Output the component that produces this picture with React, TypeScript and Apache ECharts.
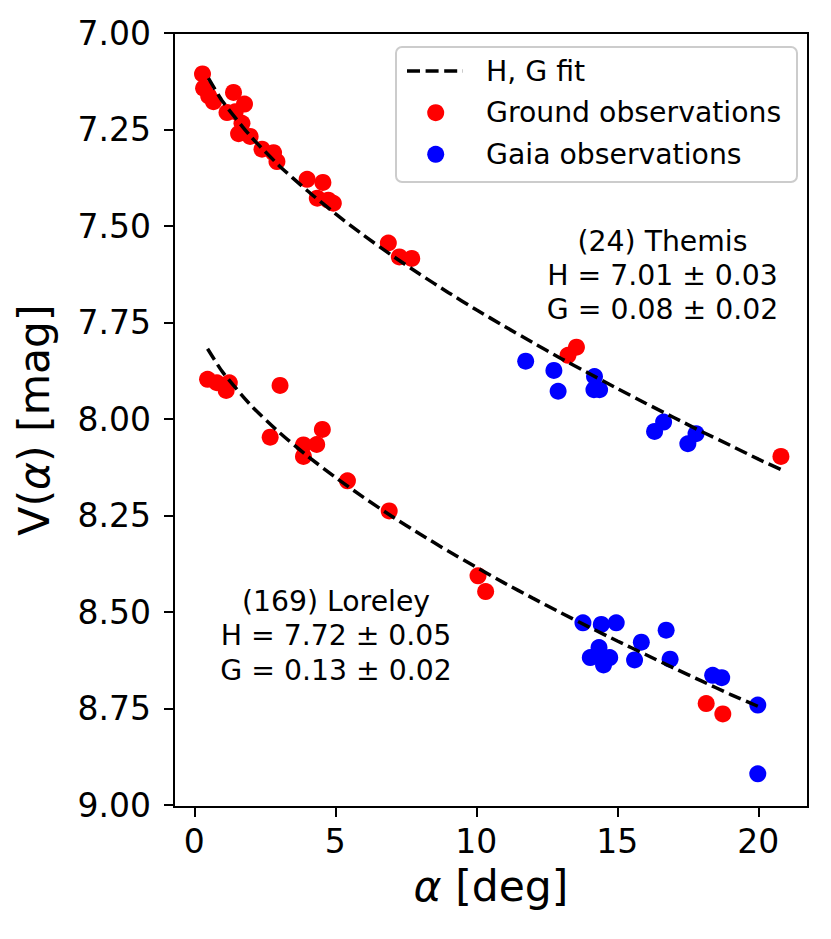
import React, { useEffect, useRef } from "react";
import * as echarts from "echarts";

const FONT = "DejaVu Sans";

// Tick labels
const xTicks = [0, 5, 10, 15, 20];
const yTicks = [7.0, 7.25, 7.5, 7.75, 8.0, 8.25, 8.5, 8.75, 9.0];

// (24) Themis
const themisGround: [number, number][] = [
  [0.29, 7.106], [0.33, 7.143], [0.51, 7.163], [0.68, 7.178], [1.39, 7.154],
  [1.78, 7.184], [1.16, 7.206], [1.45, 7.204], [1.69, 7.234], [1.57, 7.261],
  [1.98, 7.268], [2.4, 7.301], [2.81, 7.31], [2.93, 7.333], [4.0, 7.379],
  [4.56, 7.387], [4.36, 7.428], [4.75, 7.433], [4.93, 7.441], [6.88, 7.544],
  [7.27, 7.58], [7.71, 7.584], [13.55, 7.814], [13.25, 7.835], [20.8, 8.097],
];
const themisGaia: [number, number][] = [
  [11.75, 7.85], [12.75, 7.874], [12.9, 7.928], [14.19, 7.89], [14.17, 7.924],
  [14.37, 7.924], [16.64, 8.008], [16.32, 8.032], [17.79, 8.038], [17.5, 8.064],
];
const themisFit: [number, number][] = [
  [0.5, 7.117], [1, 7.177], [2, 7.268], [3, 7.343], [4, 7.408], [5, 7.468],
  [6, 7.524], [7, 7.576], [8, 7.625], [9, 7.672], [10, 7.717], [11, 7.76],
  [12, 7.802], [13, 7.843], [14, 7.882], [15, 7.921], [16, 7.959], [17, 7.996],
  [18, 8.033], [19, 8.068], [20, 8.104], [20.8, 8.131],
];

// (169) Loreley
const loreleyGround: [number, number][] = [
  [0.47, 7.897], [0.8, 7.906], [1.24, 7.906], [1.13, 7.926], [3.04, 7.913],
  [2.69, 8.047], [3.87, 8.067], [3.87, 8.097], [4.34, 8.066], [4.54, 8.027],
  [5.43, 8.16], [6.91, 8.238], [10.06, 8.406], [10.33, 8.447], [18.15, 8.737],
  [18.74, 8.764],
];
const loreleyGaia: [number, number][] = [
  [13.78, 8.528], [14.43, 8.532], [14.96, 8.528], [16.73, 8.547], [15.85, 8.578],
  [14.35, 8.592], [14.04, 8.618], [14.49, 8.618], [14.73, 8.618], [14.51, 8.637],
  [15.61, 8.624], [16.87, 8.622], [18.38, 8.664], [18.7, 8.67], [19.98, 8.741],
  [19.98, 8.919],
];
const loreleyFit: [number, number][] = [
  [0.47, 7.818], [1, 7.878], [2, 7.964], [3, 8.034], [4, 8.095], [5, 8.151],
  [6, 8.203], [7, 8.252], [8, 8.298], [9, 8.342], [10, 8.384], [11, 8.425],
  [12, 8.464], [13, 8.502], [14, 8.539], [15, 8.575], [16, 8.61], [17, 8.645],
  [18, 8.679], [19, 8.713], [19.98, 8.744],
];

const legendLabels = ["H, G fit", "Ground observations", "Gaia observations"];
const themisText = ["(24) Themis", "H = 7.01 ± 0.03", "G = 0.08 ± 0.02"];
const loreleyText = ["(169) Loreley", "H = 7.72 ± 0.05", "G = 0.13 ± 0.02"];

const RED = "#ff0000";
const BLUE = "#0000ff";
const DASH = [13, 5.6];

export default function App() {
  const ref = useRef<HTMLDivElement>(null);
  useEffect(() => {
    if (!ref.current) return;
    const chart = echarts.init(ref.current, null, { renderer: "svg" });
    const fitLine = (name: string, data: [number, number][]) => ({
      name,
      type: "line",
      data,
      symbol: "none",
      smooth: 0.2,
      z: 5,
      lineStyle: { color: "#000", width: 3.5, type: DASH },
    });
    const scatter = (name: string, data: [number, number][], color: string) => ({
      name,
      type: "scatter",
      data,
      symbolSize: 17,
      z: 3,
      itemStyle: { color, opacity: 1 },
    });
    const textStyle = (text: string, x: number, y: number, align: string) => ({
      type: "text",
      x,
      y,
      style: {
        text,
        fontSize: 28.3,
        fontFamily: FONT,
        fill: "#000",
        textAlign: align,
        textVerticalAlign: "middle",
        verticalAlign: "middle",
      },
      z: 10,
    });
    const option: any = {
      animation: false,
      backgroundColor: "#ffffff",
      textStyle: { fontFamily: FONT },
      grid: {
        left: 174,
        top: 33,
        right: 23,
        bottom: 132,
        show: true,
        borderColor: "#000",
        borderWidth: 2,
        backgroundColor: "transparent",
        containLabel: false,
      },
      xAxis: {
        type: "value",
        min: -0.72,
        max: 21.76,
        axisLine: { show: true, onZero: false, lineStyle: { color: "#000", width: 2 } },
        axisTick: {
          show: true,
          inside: false,
          length: 10,
          customValues: xTicks,
          lineStyle: { color: "#000", width: 2 },
        },
        axisLabel: {
          customValues: xTicks,
          fontSize: 33,
          color: "#000",
          fontFamily: FONT,
          margin: 18,
          formatter: (v: number) => String(v),
        },
        splitLine: { show: false },
        name: "{i|α} [deg]",
        nameLocation: "middle",
        nameGap: 58,
        nameMoveOverlap: false,
        nameTextStyle: {
          fontSize: 42.5,
          color: "#000",
          fontFamily: FONT,
          rich: { i: { fontStyle: "italic", fontSize: 42.5, fontFamily: FONT, color: "#000" } },
        },
      },
      yAxis: {
        type: "value",
        inverse: true,
        min: 7,
        max: 9.005,
        axisLine: { show: true, onZero: false, lineStyle: { color: "#000", width: 2 } },
        axisTick: {
          show: true,
          inside: false,
          length: 10,
          customValues: yTicks,
          lineStyle: { color: "#000", width: 2 },
        },
        axisLabel: {
          customValues: yTicks,
          fontSize: 33,
          color: "#000",
          fontFamily: FONT,
          margin: 23,
          formatter: (v: number) => v.toFixed(2),
        },
        splitLine: { show: false },
        name: "V({i|α}) [mag]",
        nameLocation: "middle",
        nameGap: 118,
        nameMoveOverlap: false,
        nameTextStyle: {
          fontSize: 42.5,
          color: "#000",
          fontFamily: FONT,
          rich: { i: { fontStyle: "italic", fontSize: 42.5, fontFamily: FONT, color: "#000" } },
        },
      },
      series: [
        scatter("Ground observations", themisGround, RED),
        scatter("Ground observations ", loreleyGround, RED),
        scatter("Gaia observations", themisGaia, BLUE),
        scatter("Gaia observations ", loreleyGaia, BLUE),
        fitLine("H, G fit", themisFit),
        fitLine("H, G fit ", loreleyFit),
      ],
      graphic: [
        {
          type: "rect",
          shape: { x: 396, y: 47, width: 401, height: 135, r: 6 },
          style: { fill: "rgba(255,255,255,0.8)", stroke: "#cccccc", lineWidth: 2 },
          z: 8,
        },
        {
          type: "line",
          shape: { x1: 407, y1: 71, x2: 463, y2: 71 },
          style: { stroke: "#000", lineWidth: 3.5, lineDash: DASH },
          z: 9,
        },
        { type: "circle", shape: { cx: 435.7, cy: 112.7, r: 8.5 }, style: { fill: RED }, z: 9 },
        { type: "circle", shape: { cx: 435.7, cy: 154.3, r: 8.5 }, style: { fill: BLUE }, z: 9 },
        textStyle(legendLabels[0], 486, 71, "left"),
        textStyle(legendLabels[1], 486, 112.7, "left"),
        textStyle(legendLabels[2], 486, 154.3, "left"),
        textStyle(themisText[0], 662.5, 241, "center"),
        textStyle(themisText[1], 662.5, 275, "center"),
        textStyle(themisText[2], 662.5, 309, "center"),
        textStyle(loreleyText[0], 336, 601, "center"),
        textStyle(loreleyText[1], 336, 635.5, "center"),
        textStyle(loreleyText[2], 336, 670, "center"),
      ],
    };
    chart.setOption(option);
    return () => chart.dispose();
  }, []);
  return (
    <div
      ref={ref}
      style={{ position: "fixed", left: 0, top: 0, width: 831, height: 939, background: "#fff" }}
    />
  );
}
